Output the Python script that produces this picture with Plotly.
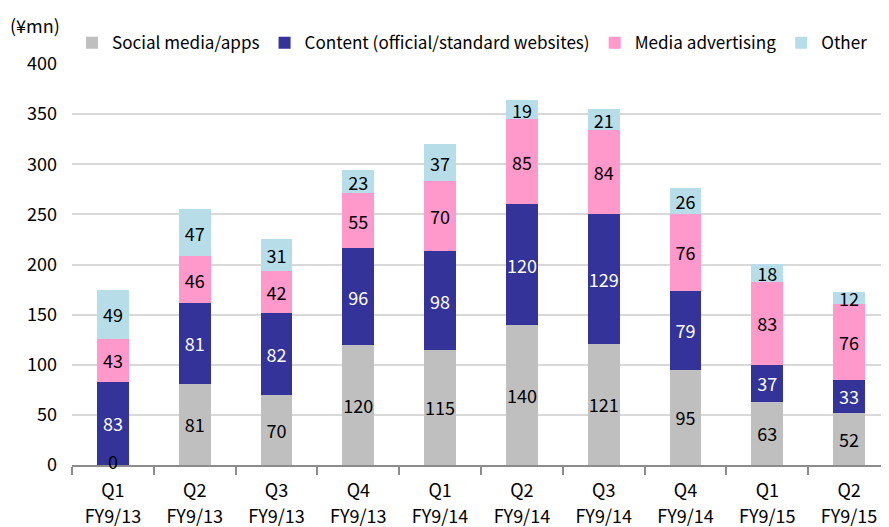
import plotly.graph_objects as go

quarters = ["Q1", "Q2", "Q3", "Q4", "Q1", "Q2", "Q3", "Q4", "Q1", "Q2"]
fiscal_years = ["FY9/13", "FY9/13", "FY9/13", "FY9/13",
                "FY9/14", "FY9/14", "FY9/14", "FY9/14",
                "FY9/15", "FY9/15"]
categories = [f"{q} {fy}" for q, fy in zip(quarters, fiscal_years)]
social = [0, 81, 70, 120, 115, 140, 121, 95, 63, 52]
content = [83, 81, 82, 96, 98, 120, 129, 79, 37, 33]
media = [43, 46, 42, 55, 70, 85, 84, 76, 83, 76]
other = [49, 47, 31, 23, 37, 19, 21, 26, 18, 12]

series = [
    ("Social media/apps", social, "#BFBFBF", "black"),
    ("Content (official/standard websites)", content, "#333399", "white"),
    ("Media advertising", media, "#FF99CC", "black"),
    ("Other", other, "#B7DEE8", "black"),
]

FONT = "Noto Sans CJK JP"
fig = go.Figure()
for name, vals, color, tcolor in series:
    fig.add_trace(go.Bar(
        x=categories, y=vals, name=name,
        marker=dict(color=color, line=dict(width=0)),
        text=[str(v) if v != 0 else "" for v in vals],
        textposition="inside", insidetextanchor="middle",
        textangle=0, constraintext="none",
        textfont=dict(color=tcolor, size=18, family=FONT),
        width=0.39,
    ))

annotations = []
for i, v in enumerate(social):
    if v == 0:
        annotations.append(dict(x=categories[i], y=v, xref="x", yref="y",
                                text=str(v), showarrow=False, yshift=4,
                                font=dict(size=18, color="black", family=FONT)))
annotations.append(dict(x=-0.045, y=1.097, xref="paper", yref="paper",
                        xanchor="center", yanchor="middle",
                        text="(¥mn)", showarrow=False,
                        font=dict(size=18, color="black", family=FONT)))

ticktext = [f"<span style='font-size:18px'>{q}</span><br>"
            f"<span style='font-size:18px'>{fy}</span>"
            for q, fy in zip(quarters, fiscal_years)]

fig.update_layout(
    barmode="stack",
    width=889, height=527,
    margin=dict(l=64, r=7, t=56, b=70),
    plot_bgcolor="white", paper_bgcolor="white",
    font=dict(family=FONT, size=18, color="black"),
    showlegend=True,
    legend=dict(orientation="h", x=0.0, xanchor="left", y=1.052, yanchor="middle",
                font=dict(size=17.1, family=FONT), itemwidth=30,
                traceorder="normal", bgcolor="rgba(0,0,0,0)"),
    annotations=annotations,
)
fig.update_xaxes(type="category", range=[-0.5, 9.5], showgrid=False,
                 showline=True, linecolor="#8C8C8C", linewidth=2,
                 ticks="outside", tickson="boundaries", ticklen=8,
                 tickcolor="#8C8C8C", tickwidth=2, ticklabelstandoff=6,
                 tickmode="array", tickvals=categories, ticktext=ticktext,
                 tickfont=dict(size=20, family=FONT))
fig.update_yaxes(range=[0, 400], dtick=50, showgrid=True, gridcolor="#D9D9D9",
                 gridwidth=1.5, showline=False, zeroline=False,
                 ticks="", ticklabelstandoff=14, tickfont=dict(size=18, family=FONT))

fig.write_html("out.html")
